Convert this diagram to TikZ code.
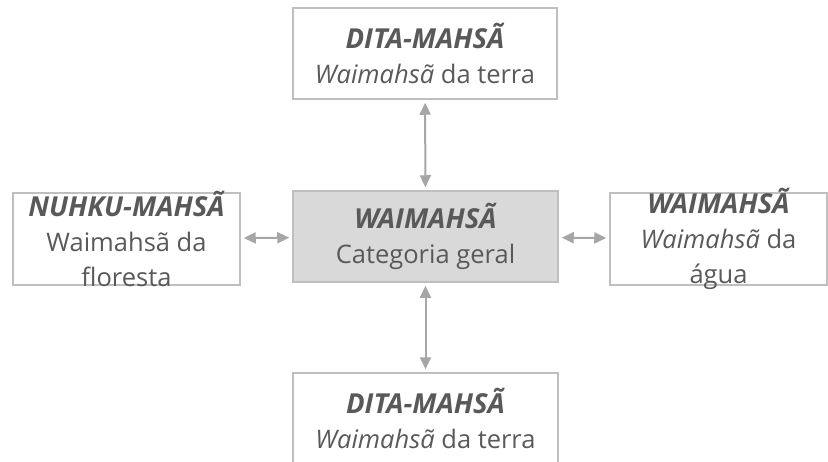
\documentclass[tikz,border=0pt]{standalone}
\usepackage{fontspec}
\setmainfont{Open Sans}
\usetikzlibrary{arrows.meta, positioning}

\definecolor{txtgray}{HTML}{595959}
\definecolor{linegray}{HTML}{BFBFBF}
\definecolor{arrgray}{HTML}{A6A6A6}
\definecolor{hubfill}{HTML}{D9D9D9}

\newcommand{\boxhead}[1]{{\fontsize{27.5}{35}\selectfont\bfseries\itshape #1}}

\tikzset{
  box/.style={draw=linegray, line width=1.5pt, fill=white, inner sep=0pt},
  hub/.style={box, fill=hubfill},
  lbl/.style={text=txtgray, align=center, inner sep=0pt,
    font=\fontsize{25.5}{35}\selectfont},
  link/.style={arrgray, line width=2pt,
    {Triangle[length=12pt,width=11pt]}-{Triangle[length=12pt,width=11pt]},
    shorten <=3pt, shorten >=3pt}
}

\begin{document}
\begin{tikzpicture}[x=1pt,y=-1pt]
\useasboundingbox (0,0) rectangle (828,461);
\clip (0,0) rectangle (828,461);
% boxes
\node[box, minimum width=264pt, minimum height=91pt] (terraA) at (425,53.5) {};
\node[hub, minimum width=265pt, minimum height=91pt] (geral) at (425.5,236.5) {};
\node[box, minimum width=227pt, minimum height=92pt] (floresta) at (126.5,239) {};
\node[box, minimum width=217pt, minimum height=92pt] (agua) at (718.5,239) {};
\node[box, minimum width=265pt, minimum height=91pt] (terraB) at (425.5,418.5) {};
% texts
\node[lbl] (terraA-t) at (terraA.center) {\boxhead{DITA-MAHSÃ}\\\textit{Waimahsã} da terra};
\node[lbl] (geral-t) at (geral.center) {\boxhead{WAIMAHSÃ}\\Categoria geral};
\node[lbl] (floresta-t) at (floresta.center) {\boxhead{NUHKU-MAHSÃ}\\Waimahsã da\\floresta};
\node[lbl] (agua-t) at (agua.center) {\boxhead{WAIMAHSÃ}\\\textit{Waimahsã} da\\água};
\node[lbl] (terraB-t) at (terraB.center) {\boxhead{DITA-MAHSÃ}\\\textit{Waimahsã} da terra};
% links
\draw[link] (terraA) -- (geral);
\draw[link] (geral) -- (terraB);
\draw[link] (floresta) -- (geral);
\draw[link] (geral) -- (agua);
\end{tikzpicture}
\end{document}
